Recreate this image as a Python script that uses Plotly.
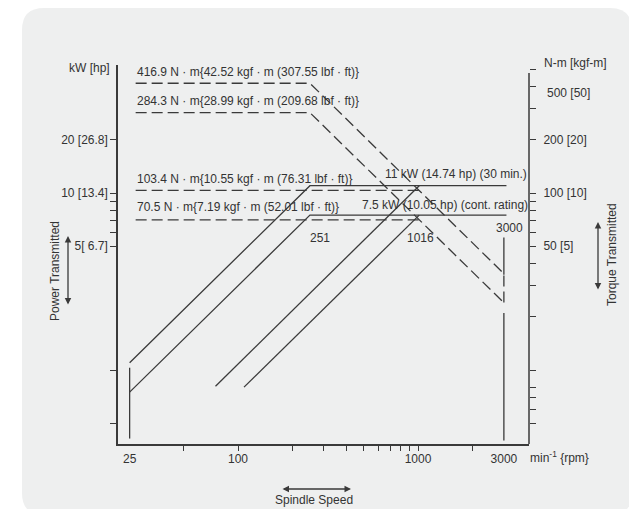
import math
import plotly.graph_objects as go

# ---------------- data ----------------
# spindle speed axis
speed_label_vals = [25, 100, 1000, 3000]
speed_label_text = ["25", "100", "1000", "3000"]
speed_tick_vals = [50, 100, 200, 300, 400, 500, 600, 700, 800, 900, 1000, 2000]

# power axis (kW [hp])
power_tick_vals = [0.5, 1, 5, 6, 7, 8, 9, 10, 20]
power_tick_text = ["", "", "5[ 6.7]", "", "", "", "", "10 [13.4]", "20 [26.8]"]

# torque axis (N-m [kgf-m])
torque_tick_vals = [5, 6, 7, 8, 10, 20, 30, 40, 50, 60, 70, 80, 90, 100, 200, 300, 400, 500]
torque_tick_text = ["", "", "", "", "", "", "", "", "50 [5]", "", "", "", "", "100 [10]", "200 [20]", "", "", ""]

# power curves (solid)  rpm / kW
low_30_rpm = [25, 251, 3100]
low_30_kw = [1.1, 11, 11]
low_cont_rpm = [25, 251, 3100]
low_cont_kw = [0.75, 7.5, 7.5]
high_30_rpm = [75, 1016]
high_30_kw = [0.81, 11]
high_cont_rpm = [108, 1016]
high_cont_kw = [0.8, 7.5]
min_speed_rpm = [25, 25]
min_speed_kw = [1.03, 0.41]
max_speed_rpm = [3000, 3000, None, 3000, 3000]
max_speed_kw = [5.6, 3.45, None, 2.1, 0.40]

# torque curves (dashed)  rpm / N-m
t_low_30_rpm = [27, 251, 3000, 3000]
t_low_30_nm = [416.9, 416.9, 35, 24]
t_low_cont_rpm = [27, 251, 3000]
t_low_cont_nm = [284.3, 284.3, 24]
t_high_30_rpm = [27, 1016]
t_high_30_nm = [103.4, 103.4]
t_high_cont_rpm = [27, 1016]
t_high_cont_nm = [70.5, 70.5]

torque_labels = [
    "416.9 N · m{42.52 kgf · m (307.55 lbf · ft)}",
    "284.3 N · m{28.99 kgf · m (209.68 lbf · ft)}",
    "103.4 N · m{10.55 kgf · m (76.31 lbf · ft)}",
    "70.5 N · m{7.19 kgf · m (52.01 lbf · ft)}",
]
torque_label_vals = [416.9, 284.3, 103.4, 70.5]
power_labels = ["11 kW (14.74 hp) (30 min.)", "7.5 kW (10.05 hp) (cont. rating)"]
speed_marks = [251, 1016, 3000]

# ---------------- style ----------------
FONT = "Liberation Sans Narrow, Arial Narrow, Liberation Sans, Arial, sans-serif"
TXT = "#333333"
LINE = "#3a3a3a"
FS = 12

W, H = 629, 509
L, R, T, B = 118, 100, 65, 65
PW, PH = W - L - R, H - T - B


def px(xp):
    return (xp - L) / PW


def py(yp):
    return (H - B - yp) / PH


fig = go.Figure()

solid = dict(color=LINE, width=1.3)
dashed = dict(color=LINE, width=1.3, dash="11px,5px")

for xs, ys in [(low_30_rpm, low_30_kw), (low_cont_rpm, low_cont_kw),
               (high_30_rpm, high_30_kw), (high_cont_rpm, high_cont_kw),
               (min_speed_rpm, min_speed_kw), (max_speed_rpm, max_speed_kw)]:
    fig.add_trace(go.Scatter(x=xs, y=ys, mode="lines", line=solid,
                             yaxis="y", showlegend=False, hoverinfo="skip",
                             connectgaps=False))

for xs, ys in [(t_low_30_rpm, t_low_30_nm), (t_low_cont_rpm, t_low_cont_nm),
               (t_high_30_rpm, t_high_30_nm), (t_high_cont_rpm, t_high_cont_nm)]:
    fig.add_trace(go.Scatter(x=xs, y=ys, mode="lines", line=dashed,
                             yaxis="y2", showlegend=False, hoverinfo="skip"))

# y ranges: 177 px / decade, 10 kW at y=193 px, torque axis = power axis x10
y_top = 1 + (193 - T) / 177
y_bot = 1 - (H - B - 193) / 177
x_lo = 2 - (238 - L) / 180
x_hi = 2 + (L + PW - 238) / 180

tickfont = dict(family=FONT, size=FS, color=TXT)

fig.update_layout(
    width=W, height=H,
    margin=dict(l=L, r=R, t=T, b=B, pad=0, autoexpand=False),
    paper_bgcolor="white", plot_bgcolor="rgba(0,0,0,0)",
    font=dict(family=FONT, size=FS, color=TXT),
    showlegend=False,
    xaxis=dict(type="log", range=[x_lo, x_hi], showgrid=False, zeroline=False,
               showline=True, linecolor=LINE, linewidth=1.5,
               tickmode="array", tickvals=speed_label_vals, ticktext=speed_label_text,
               ticks="", ticklabelstandoff=3, tickfont=tickfont,
               minor=dict(tickmode="array", tickvals=speed_tick_vals, ticks="outside",
                          ticklen=5, tickcolor=LINE, tickwidth=1.3, showgrid=False),
               automargin=False),
    yaxis=dict(type="log", range=[y_bot, y_top], showgrid=False, zeroline=False,
               showline=True, linecolor=LINE, linewidth=1.5,
               tickmode="array", tickvals=power_tick_vals, ticktext=power_tick_text,
               ticks="outside", ticklen=6, tickcolor=LINE, tickwidth=1.3,
               tickfont=tickfont, ticklabelstandoff=0, automargin=False),
    yaxis2=dict(type="log", range=[y_bot + 1, y_top + 1], overlaying="y", side="right",
                showgrid=False, zeroline=False, showline=False,
                tickmode="array", tickvals=torque_tick_vals, ticktext=torque_tick_text,
                ticks="outside", ticklen=6, tickcolor=LINE, tickwidth=1.3,
                tickfont=tickfont, ticklabelstandoff=5, automargin=False),
)

# background panel (rounded rectangle)
x0, x1 = px(22), px(632)
y1, y0 = py(8), py(515)
rx, ry = 22 / PW, 22 / PH
path = (f"M {x0+rx},{y1} L {x1-rx},{y1} Q {x1},{y1} {x1},{y1-ry} "
        f"L {x1},{y0+ry} Q {x1},{y0} {x1-rx},{y0} "
        f"L {x0+rx},{y0} Q {x0},{y0} {x0},{y0+ry} "
        f"L {x0},{y1-ry} Q {x0},{y1} {x0+rx},{y1} Z")
fig.add_shape(type="path", path=path, xref="paper", yref="paper",
              fillcolor="#eeefef", line=dict(width=0), layer="below")

# right axis line (ends at the 500 N-m cap)
fig.add_shape(type="line", xref="paper", yref="paper", x0=1, x1=1,
              y0=0, y1=py(73), line=dict(color=LINE, width=1.5))

ann = []


def text(t, x, y, xanchor="center", yanchor="middle", **kw):
    d = dict(text=t, x=x, y=y, xref=kw.pop("xref", "paper"), yref=kw.pop("yref", "paper"),
             xanchor=xanchor, yanchor=yanchor, showarrow=False,
             font=dict(family=FONT, size=FS, color=TXT))
    d.update(kw)
    ann.append(d)


# torque-line labels, anchored to the data
for lab, val, sh in zip(torque_labels, torque_label_vals, [11, 12, 11, 13]):
    text(lab, math.log10(27), math.log10(val), xanchor="left", xref="x", yref="y2",
         yshift=sh, xshift=-1)

# power labels
text(power_labels[0], px(383), py(174), xanchor="left")
text(power_labels[1], px(360), py(205), xanchor="left")

# speed marks
for v, sx, yy in zip(speed_marks, [10, 1, 6], [238, 238, 228]):
    text(str(v), math.log10(v), py(yy), xref="x", xshift=sx)

# axis titles
text("kW [hp]", px(112), py(68), xanchor="right")
text("N-m [kgf-m]", px(542), py(63), xanchor="left")
text("500 [50]", px(545), py(93), xanchor="left")
text("min<sup>-1</sup> {rpm}", px(528), py(457), xanchor="left")
text("Power Transmitted", px(55), py(271), textangle=-90)
text("Torque Transmitted", px(612), py(255), textangle=-90)
text("Spindle Speed", px(314), py(500))

# double-headed arrows
for hx, hy, axp, ayp in [(68, 236, 0, 70), (598, 222, 0, 69), (351, 489, -70, 0)]:
    ann.append(dict(text="", x=px(hx), y=py(hy), xref="paper", yref="paper",
                    ax=axp, ay=ayp, axref="pixel", ayref="pixel",
                    showarrow=True, arrowhead=2, arrowside="end+start",
                    arrowsize=1, arrowwidth=1.3, arrowcolor=LINE))

fig.update_layout(annotations=ann)

fig.write_html("out.html", config={"displayModeBar": False},
               post_script="document.body.style.margin='0px';document.body.style.overflow='hidden';")
